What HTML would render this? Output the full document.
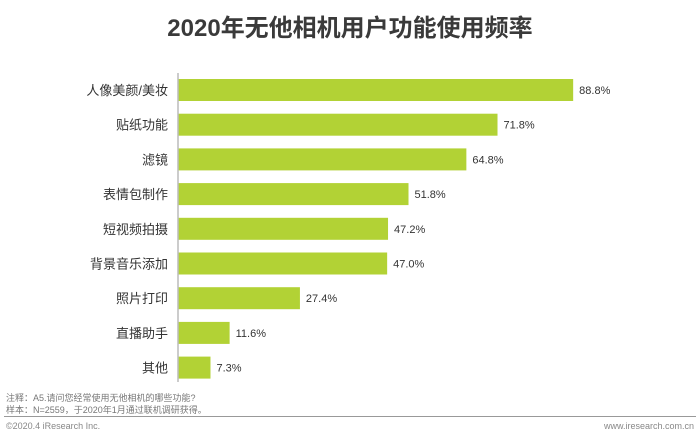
<!DOCTYPE html>
<html><head><meta charset="utf-8"><style>
body{margin:0;width:700px;height:439px;background:#fff;font-family:"Liberation Sans","Noto Sans CJK SC",sans-serif;position:relative;overflow:hidden}
.t{position:absolute;white-space:nowrap}
</style></head><body>
<div class="t" style="left:0;width:700px;top:8px;text-align:center;font-size:24px;font-weight:bold;color:#3a3a3a">2020年无他相机用户功能使用频率</div>
<svg id="c" width="700" height="439" style="position:absolute;left:0;top:0"></svg>
<div class="t" style="left:6px;top:391px;font-size:9px;color:#777">注释：A5.请问您经常使用无他相机的哪些功能?</div>
<div class="t" style="left:6px;top:403px;font-size:9px;color:#777">样本：N=2559，于2020年1月通过联机调研获得。</div>
<div style="position:absolute;left:4px;right:4px;top:416px;height:1px;background:#999"></div>
<div class="t" style="left:6px;top:421px;font-size:9px;color:#888">©2020.4 iResearch Inc.</div>
<div class="t" style="right:6px;top:421px;font-size:9px;color:#888">www.iresearch.com.cn</div>
<script>
const categories=["人像美颜/美妆","贴纸功能","滤镜","表情包制作","短视频拍摄","背景音乐添加","照片打印","直播助手","其他"];
const values=[88.8,71.8,64.8,51.8,47.2,47.0,27.4,11.6,7.3];
const labels=["88.8%","71.8%","64.8%","51.8%","47.2%","47.0%","27.4%","11.6%","7.3%"];
const svg=document.getElementById('c');const NS='http://www.w3.org/2000/svg';
const x0=178,xs=4.45,y0=90,step=34.7,bh=22;
const X=v=>x0+v*xs, Y=i=>y0+i*step;
function mk(t,a){const e=document.createElementNS(NS,t);for(const k in a)e.setAttribute(k,a[k]);svg.appendChild(e);return e;}
categories.forEach((c,i)=>{
 const r=mk('rect',{x:x0,y:Y(i)-bh/2,width:X(values[i])-x0,height:bh,fill:'#b2d235'});
 
 
 const t=mk('text',{x:x0-10,y:Y(i)+5,'text-anchor':'end','font-size':13,fill:'#333'});t.textContent=c;
 
 
 const v=mk('text',{x:X(values[i])+6,y:Y(i)+4,'font-size':11,fill:'#333'});v.textContent=labels[i];
 
 
});
const ax=mk('line',{x1:x0,x2:x0,y1:73,y2:382,stroke:'#bbb','stroke-width':1.5});


</script>
</body></html>
